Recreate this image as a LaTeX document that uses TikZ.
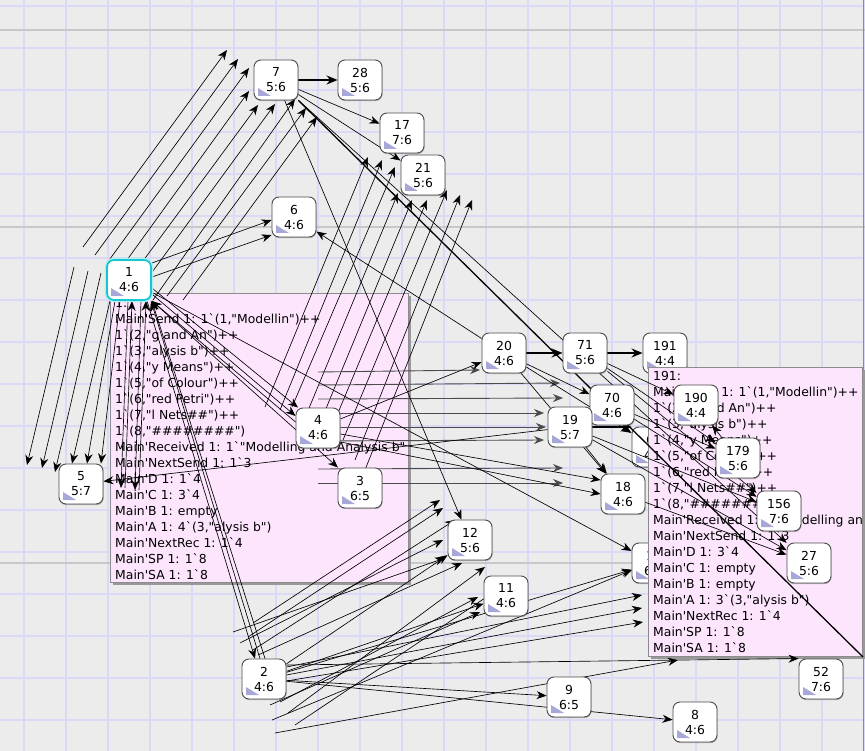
\documentclass[tikz,border=0pt]{standalone}
\usepackage{fontspec}
\newfontfamily\cpnfont{DejaVu Sans}
\usetikzlibrary{arrows.meta,shadows}
\definecolor{sheet}{RGB}{236,236,236}
\definecolor{gridline}{RGB}{218,218,246}
\definecolor{pageline}{RGB}{200,200,200}
\definecolor{infopink}{RGB}{253,230,253}
\definecolor{infoframe}{RGB}{140,140,140}
\definecolor{marker}{RGB}{168,168,216}
\definecolor{focus}{RGB}{20,200,210}
\pgfdeclarelayer{grid}
\pgfdeclarelayer{under}
\pgfdeclarelayer{info}
\pgfdeclarelayer{arcs}
\pgfsetlayers{grid,under,info,arcs,main}
\tikzset{
  state/.style={draw=black!70, fill=white, line width=0.9pt, rounded corners=7pt,
    minimum width=44pt, minimum height=40pt, inner sep=0pt, align=center,
    font=\cpnfont\fontsize{12.4}{15}\selectfont,
    drop shadow={shadow xshift=0.6pt, shadow yshift=-1.2pt, opacity=0.35, fill=black!70},
    path picture={\fill[marker, sharp corners] ([shift={(4pt,4pt)}]path picture bounding box.south west)
      -- ++(13pt,0pt) -- ++(-13pt,8pt) -- cycle;}},
  focused/.style={state, draw=focus, line width=1.8pt,
    preaction={draw=focus!30, line width=4.5pt}},
  arc/.style={-{Stealth[length=10pt,width=8pt]}, line width=0.65pt},
  heavy/.style={-{Stealth[length=11pt,width=9pt]}, line width=1.6pt},
  flat/.style={arc, black!70, line width=0.9pt},
  infotext/.style={anchor=base west, inner sep=0pt, font=\cpnfont\fontsize{12.4}{16}\selectfont},
}
\begin{document}
\begin{tikzpicture}[x=1pt,y=-1pt]
\useasboundingbox (0,0) rectangle (865,751);
% sheet with its grid
\begin{pgfonlayer}{grid}
\fill[sheet] (0,0) rectangle (865,751);
\foreach \gx in {24,66,...,864} \draw[gridline,line width=1.4pt] (\gx,0) -- (\gx,751);
\foreach \gy in {6,48,...,720} \draw[gridline,line width=1.4pt] (0,\gy) -- (865,\gy);
\foreach \gy in {30,227,563} \draw[pageline,line width=1.4pt] (0,\gy) -- (865,\gy);
\draw[black!45,line width=1pt] (863.5,0) -- (863.5,751);
\end{pgfonlayer}

% states partly hidden by the info box of 191
\begin{pgfonlayer}{under}
\node[state] (n191) at (665,353) {191\\4:4};
\node[state] (n68) at (654,447) {68\\4:6};
\node[state] (n13) at (654,563) {13\\6:5};
\end{pgfonlayer}

% states
\node[focused] (n1) at (129,280) {1\\4:6};
\node[state] (n7) at (276,80) {7\\5:6};
\node[state] (n28) at (360,80) {28\\5:6};
\node[state] (n17) at (402,133) {17\\7:6};
\node[state] (n21) at (423,175) {21\\5:6};
\node[state] (n6) at (294,217) {6\\4:6};
\node[state] (n5) at (81,484) {5\\5:7};
\node[state] (n4) at (318,428) {4\\4:6};
\node[state] (n3) at (360,488) {3\\6:5};
\node[state] (n20) at (504,353) {20\\4:6};
\node[state] (n71) at (585,353) {71\\5:6};
\node[state] (n70) at (612,405) {70\\4:6};
\node[state] (n19) at (570,427) {19\\5:7};
\node[state] (n18) at (623,494) {18\\4:6};
\node[state] (n190) at (696,405) {190\\4:4};
\node[state] (n179) at (738,458) {179\\5:6};
\node[state] (n156) at (779,511) {156\\7:6};
\node[state] (n27) at (809,563) {27\\5:6};
\node[state] (n52) at (821,679) {52\\7:6};
\node[state] (n12) at (470,540) {12\\5:6};
\node[state] (n11) at (506,596) {11\\4:6};
\node[state] (n2) at (264,679) {2\\4:6};
\node[state] (n9) at (569,697) {9\\6:5};
\node[state] (n8) at (695,722) {8\\4:6};

% info boxes of 1 and 191
\begin{pgfonlayer}{info}
\fill[black!40] (113,296) rectangle (411,585);
\draw[infoframe,fill=infopink] (110,293) rectangle (408,582);
\begin{scope}
\clip (110,293) rectangle (408,582);
\foreach \txt [count=\i from 0] in {{1:},{Main'Send 1: 1`(1,"Modellin")++},{1`(2,"g and An")++},
  {1`(3,"alysis b")++},{1`(4,"y Means")++},{1`(5,"of Colour")++},{1`(6,"red Petri")++},
  {1`(7,"l Nets\#\#")++},{1`(8,"\#\#\#\#\#\#\#\#")},{Main'Received 1: 1`"Modelling and Analysis b"},
  {Main'NextSend 1: 1`3},{Main'D 1: 1`4},{Main'C 1: 3`4},{Main'B 1: empty},
  {Main'A 1: 4`(3,"alysis b")},{Main'NextRec 1: 1`4},{Main'SP 1: 1`8},{Main'SA 1: 1`8}}
  \node[infotext] (ia\i) at (115,{307.5+16*\i}) {\txt};
\end{scope}
\fill[black!40] (651,370) rectangle (866,659);
\draw[infoframe,fill=infopink] (648,367) rectangle (862,656);
\begin{scope}
\clip (648,367) rectangle (862,656);
\foreach \txt [count=\i from 0] in {{191:},{Main'Send 1: 1`(1,"Modellin")++},{1`(2,"g and An")++},
  {1`(3,"alysis b")++},{1`(4,"y Means")++},{1`(5,"of Colour")++},{1`(6,"red Petri")++},
  {1`(7,"l Nets\#\#")++},{1`(8,"\#\#\#\#\#\#\#\#")},{Main'Received 1: 1`"Modelling and Analysis b"},
  {Main'NextSend 1: 1`3},{Main'D 1: 3`4},{Main'C 1: empty},{Main'B 1: empty},
  {Main'A 1: 3`(3,"alysis b")},{Main'NextRec 1: 1`4},{Main'SP 1: 1`8},{Main'SA 1: 1`8}}
  \node[infotext] (ib\i) at (653,{380.5+16*\i}) {\txt};
\end{scope}
\end{pgfonlayer}

\begin{pgfonlayer}{arcs}
% bundle climbing to 7
\foreach \tx/\ty/\hx/\hy [count=\k] in {83/247/227/50,95/255/238/59,107/263/249/68,
  127/260/249/91,143/261/258/105,150/275/275/104,153/300/295/99,167/296/306/108,183/300/317/117}
{
  \coordinate (up\k) at (\tx,\ty);
  \coordinate (uph\k) at (\hx,\hy);
  \draw[arc] (up\k) -- (uph\k);
}
% bundle climbing to 21
\foreach \tx/\ty/\hx/\hy [count=\k] in {265/407/368/157,280/410/382/160,292/407/395/167,
  300/430/398/193,318/428/412/200,330/432/427/200,343/440/447/190,355/460/460/195,365/470/472/200}
{
  \coordinate (mid\k) at (\tx,\ty);
  \coordinate (midh\k) at (\hx,\hy);
  \draw[arc] (mid\k) -- (midh\k);
}
% falling to the left of 5
\foreach \tx/\ty/\hx/\hy [count=\k] in {74/267/27/465,88/271/42/468,101/273/55/472}
{
  \coordinate (dn\k) at (\tx,\ty);
  \coordinate (dnh\k) at (\hx,\hy);
  \draw[arc] (dn\k) -- (dnh\k);
}
% level arcs leaving the box of 1
\foreach \ty/\hx/\hy [count=\k] in {372/480/370,385/560/383,399/563/398,413/544/413,
  427/546/427,441/544/440,469/563/468,483/563/483}
{
  \coordinate (lv\k) at (318,\ty);
  \coordinate (lvh\k) at (\hx,\hy);
  \draw[flat] (lv\k) -- (lvh\k);
}
% rising from below left of 2
\foreach \tx/\ty/\hx/\hy [count=\k] in {233/632/445/558,240/643/443/540,253/623/440/500,
  248/637/443/508,253/650/455/520,258/655/462/563,270/705/480/612,280/702/478/597,
  288/713/485/567,295/725/500/588,272/720/632/570,275/733/678/660}
{
  \coordinate (lo\k) at (\tx,\ty);
  \coordinate (loh\k) at (\hx,\hy);
  \draw[arc] (lo\k) -- (loh\k);
}
% around 1
\draw[arc] ([yshift=17pt]n1.east) -- ([yshift=-3pt]n6.west);
\draw[arc] ([yshift=3pt]n1.east) -- ([yshift=-18pt]n6.west);
\draw[arc] ([yshift=-8pt]n1.east) -- ([xshift=-20pt]n4.north);
\draw[arc] ([yshift=-14pt]n1.east) -- ([yshift=12pt]n4.west);
\draw[arc] ([yshift=6pt]n4.west) -- (n1.south east);
\draw[arc] (n1.south east) -- ([xshift=-22pt]n3.north);
\draw[arc] (n1) -- (n13);
\draw[arc] ([xshift=-19pt]n1.south) -- ([xshift=-9pt]n5.north);
\draw[arc] ([xshift=-14pt]n1.south) -- ([xshift=6pt]n5.north);
\draw[arc] ([xshift=-9pt]n1.south) -- ([xshift=20pt]n5.north);
\coordinate (v1) at (121,488);
\coordinate (v2) at (135,490);
\coordinate (w1) at (125,488);
\coordinate (w2) at (139,490);
\draw[arc] ([xshift=-1pt]n1.south) -- (v1);
\draw[arc] ([xshift=12pt]n1.south) -- (v2);
\draw[arc] (w1) -- ([xshift=3pt]n1.south);
\draw[arc] (w2) -- ([xshift=17pt]n1.south);
\draw[arc] ([xshift=18pt]n1.south) -- ([xshift=-9pt]n2.north);
\draw[arc] ([xshift=-4pt]n2.north) -- ([xshift=22pt]n1.south);
\draw[arc] ([xshift=1pt]n2.north) -- (n1.south east);
% around 7
\draw[heavy] (n7.east) -- (n28.west);
\draw[arc] (n7) -- (n17);
\draw[arc] (n7) -- (n21);
\draw[arc] (n7) -- (n12);
\draw[arc] (n7) -- (n27);
\coordinate (far) at (863,657);
\draw[line width=1.3pt] (n7.south east) -- (far);
% around 4, 20, 71 and 19
\draw[arc] (n4) -- (n20);
\draw[arc] ([yshift=-6pt]n4.east) -- ([yshift=14pt]n18.west);
\draw[arc] ([yshift=-14pt]n4.east) -- (n18.west);
\draw[arc] (n19) -- (n5);
\draw[arc] (n20) -- (n6);
\draw[heavy] (n20.east) -- (n71.west);
\draw[heavy] (n71.east) -- (n191.west);
\draw[heavy] (n19.east) -- (n19.east -| n68.west);
\draw[arc] (n20) -- (n70);
\draw[arc] (n20) -- (n68);
\draw[arc] (n20) -- (n18);
\draw[arc] (n71) -- (n190);
\draw[arc] (n71) -- (n179);
\draw[arc] (n71) -- (n156);
\draw[arc] (n70) -- (n179);
\draw[arc] (n70) -- (n156);
\draw[arc] (n19) -- (n18);
\draw[arc] (n19) -- (n156);
\draw[arc] (n19) -- (n27);
\draw[arc] (n18) -- (n27);
\draw[arc] (n179) -- (n190);
% around 2
\draw[arc] (n2) -- (n12);
\draw[arc] (n2) -- (n11);
\draw[arc] (n2) -- (n13);
\draw[arc] (n2) -- (n9);
\draw[arc] (n2) -- (n8);
\draw[arc] ([yshift=14pt]n2.east) -- (n52.north west);
\coordinate (edge1) at (642,595);
\coordinate (edge2) at (642,608);
\coordinate (edge3) at (643,622);
\draw[arc] ([yshift=12pt]n2.east) -- (edge1);
\draw[arc] ([yshift=4pt]n2.east) -- (edge2);
\draw[arc] ([yshift=-2pt]n2.east) -- (edge3);
\end{pgfonlayer}
\end{tikzpicture}
\end{document}
